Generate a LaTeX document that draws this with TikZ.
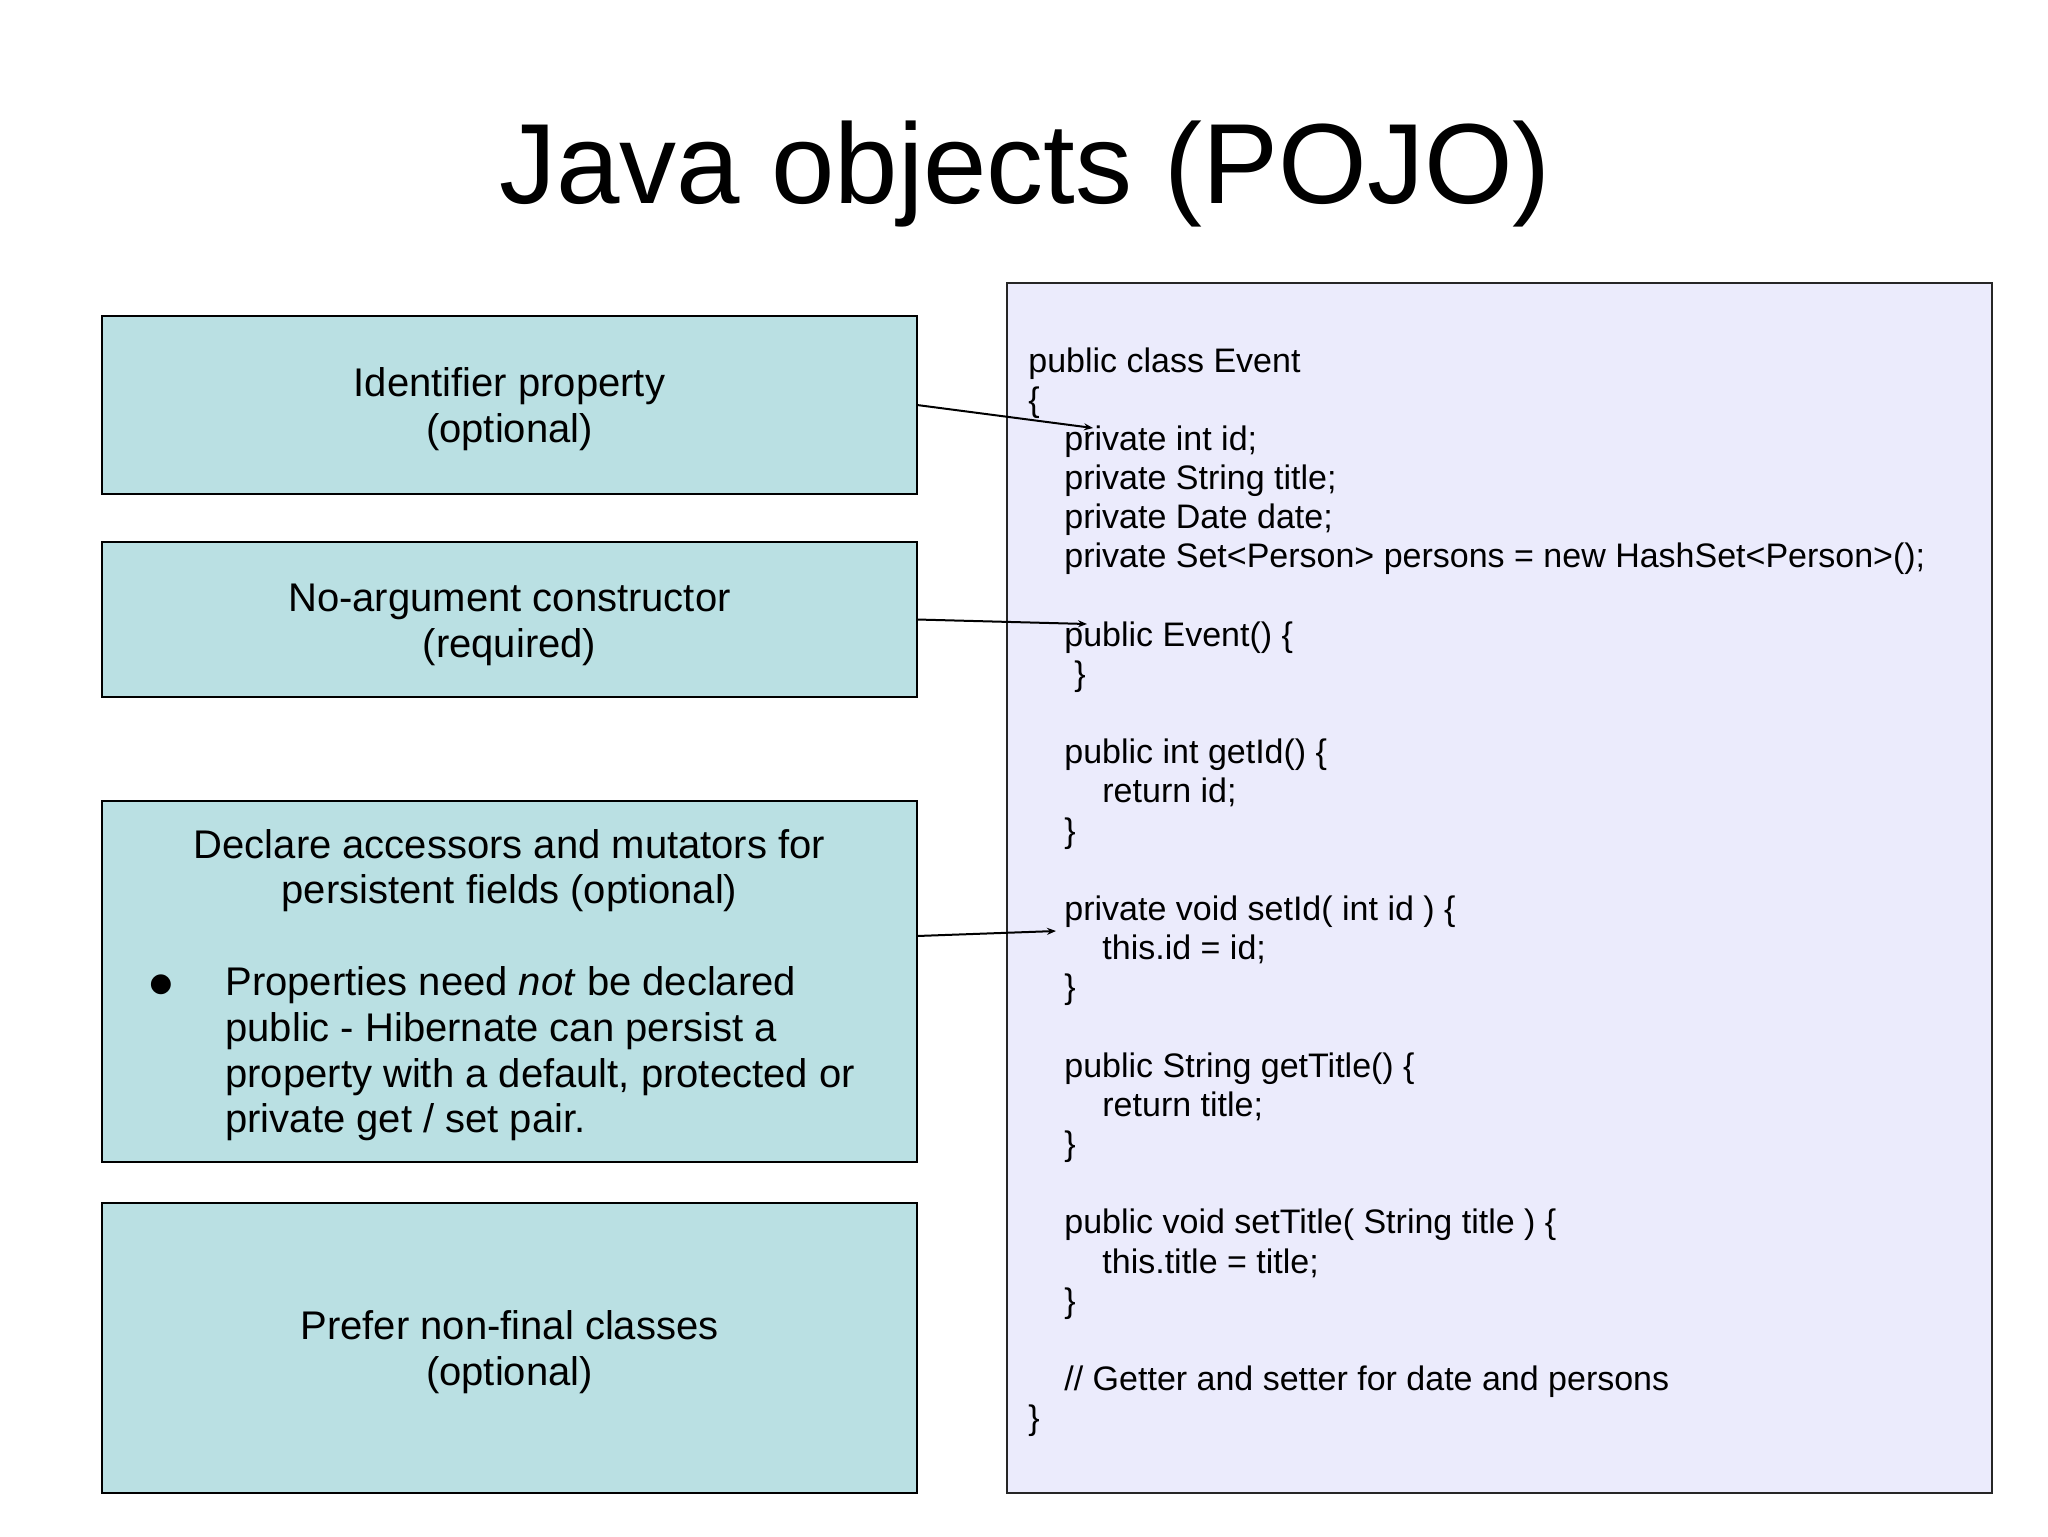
\documentclass[tikz,border=0pt]{standalone}
\usepackage{fontspec}
\setmainfont{Liberation Sans}
\newfontfamily\bulletfont{DejaVu Sans}
\usetikzlibrary{arrows.meta,calc}
\definecolor{tealbox}{HTML}{BAE0E3}
\definecolor{codebg}{HTML}{EBEBFC}
\newcommand\boxfont{\fontsize{20pt}{23pt}\selectfont}
\newcommand\codefont{\fontsize{17pt}{19.59pt}\selectfont}
\newcommand\titlefont{\fontsize{57pt}{68pt}\selectfont}
\begin{document}
\begin{tikzpicture}[x=0.5pt,y=-0.5pt,
  leftbox/.style={draw=black, line width=1pt, fill=tealbox, inner sep=0pt, outer sep=0pt,
    minimum width=407.5pt},
  boxtext/.style={inner sep=0pt, align=center, font=\boxfont},
  codebox/.style={draw=black!85, line width=1pt, fill=codebg, inner sep=0pt, outer sep=0pt},
  codeline/.style={anchor=base west, inner sep=0pt, font=\codefont},
  bline/.style={anchor=base west, inner sep=0pt, font=\boxfont},
  conn/.style={draw=black, line width=1pt, -{Stealth[length=4.5pt,width=3.5pt]}}]
\fill[white] (0,0) rectangle (2048,1536);
\useasboundingbox (0,0) rectangle (2048,1536);

\node[anchor=base, inner sep=0pt, font=\titlefont] (title) at (1025,203) {Java objects (POJO)};

\node[leftbox, minimum height=89pt] (b1) at (509.5,405) {};
\node[leftbox, minimum height=77.5pt] (b2) at (509.5,619.5) {};
\node[leftbox, minimum height=180.5pt] (b3) at (509.5,981.5) {};
\node[leftbox, minimum height=145pt] (b4) at (509.5,1348) {};

\node[boxtext] (b1t) at ($(b1.center)+(0,4)$) {Identifier property\\(optional)};
\node[boxtext] (b2t) at ($(b2.center)+(0,5)$) {No-argument constructor\\(required)};
\node[boxtext] (b4t) at ($(b4.center)+(0,4)$) {Prefer non-final classes\\(optional)};

\node[anchor=base, inner sep=0pt, font=\boxfont] (b3t1) at (509.5,858) {Declare accessors and mutators for};
\node[anchor=base, inner sep=0pt, font=\boxfont] (b3t2) at (509.5,903) {persistent fields (optional)};
\node[inner sep=0pt, font=\bulletfont\fontsize{13pt}{13pt}\selectfont] (bul) at (161,985) {●};
\node[bline] (b3l1) at (225,995) {Properties need \textit{not} be declared};
\node[bline] (b3l2) at (225,1041) {public - Hibernate can persist a};
\node[bline] (b3l3) at (225,1087) {property with a default, protected or};
\node[bline] (b3l4) at (225,1132) {private get / set pair.};

\node[codebox, minimum width=492.5pt, minimum height=605pt] (code) at (1499.5,888) {};

\node[codeline] (c0) at (1028,{372+0*39.18}) {public class Event};
\node[codeline] (c1) at (1028,{372+1*39.18}) {\{};
\node[codeline] (c2) at (1064,{372+2*39.18}) {private int id;};
\node[codeline] (c3) at (1064,{372+3*39.18}) {private String title;};
\node[codeline] (c4) at (1064,{372+4*39.18}) {private Date date;};
\node[codeline] (c5) at (1064,{372+5*39.18}) {private Set<Person> persons = new HashSet<Person>();};
\node[codeline] (c7) at (1064,{372+7*39.18}) {public Event() \{};
\node[codeline] (c8) at (1074,{372+8*39.18}) {\}};
\node[codeline] (c10) at (1064,{372+10*39.18}) {public int getId() \{};
\node[codeline] (c11) at (1102,{372+11*39.18}) {return id;};
\node[codeline] (c12) at (1064,{372+12*39.18}) {\}};
\node[codeline] (c14) at (1064,{372+14*39.18}) {private void setId( int id ) \{};
\node[codeline] (c15) at (1102,{372+15*39.18}) {this.id = id;};
\node[codeline] (c16) at (1064,{372+16*39.18}) {\}};
\node[codeline] (c18) at (1064,{372+18*39.18}) {public String getTitle() \{};
\node[codeline] (c19) at (1102,{372+19*39.18}) {return title;};
\node[codeline] (c20) at (1064,{372+20*39.18}) {\}};
\node[codeline] (c22) at (1064,{372+22*39.18}) {public void setTitle( String title ) \{};
\node[codeline] (c23) at (1102,{372+23*39.18}) {this.title = title;};
\node[codeline] (c24) at (1064,{372+24*39.18}) {\}};
\node[codeline] (c26) at (1064,{372+26*39.18}) {// Getter and setter for date and persons};
\node[codeline] (c27) at (1028,{372+27*39.18}) {\}};

\coordinate (t1) at (1093,428);
\coordinate (t2) at (1087,624);
\coordinate (t3) at (1056,931);
\draw[conn] (b1.east) -- (t1);
\draw[conn] (b2.east) -- (t2);
\draw[conn] ($(b3.east)+(0,-45.5)$) -- (t3);
\end{tikzpicture}
\end{document}
